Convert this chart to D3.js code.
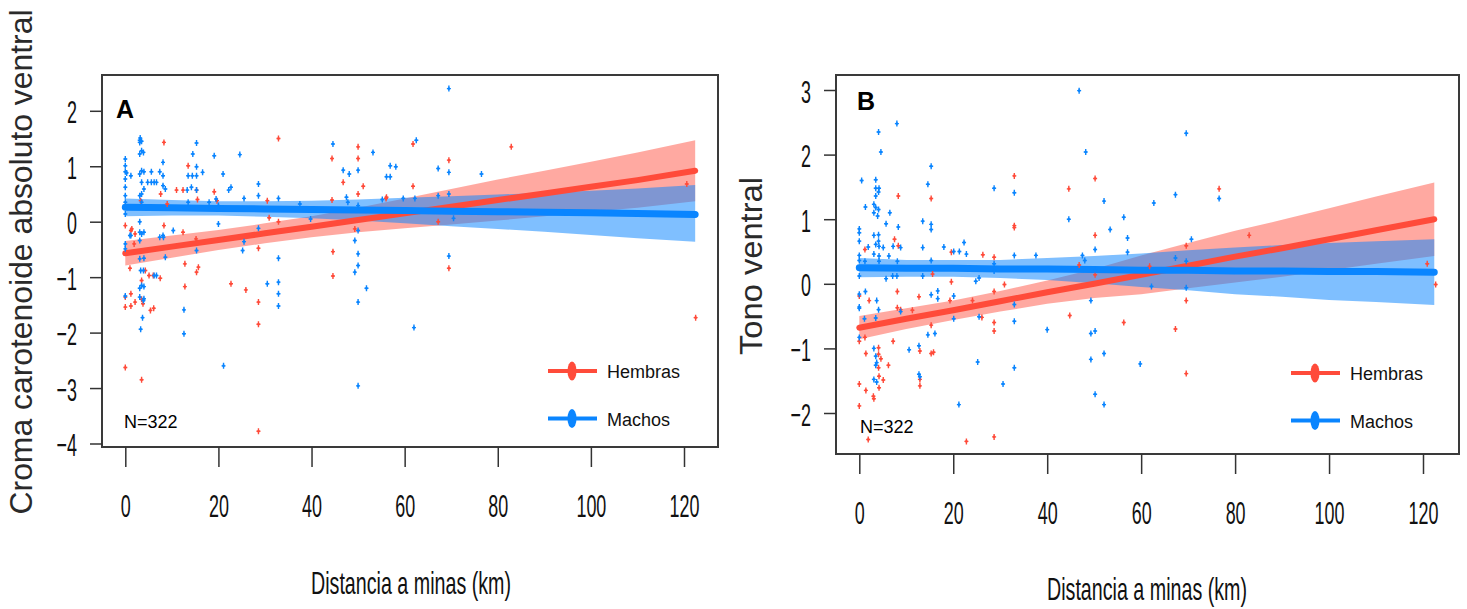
<!DOCTYPE html>
<html lang="es">
<head>
<meta charset="UTF-8">
<title>Distancia a minas</title>
<script src="https://d3js.org/d3.v7.min.js"></script>
<style>
  body { margin: 0; background: #fff; }
  svg { display: block; }
  text { font-family: "Liberation Sans", Arial, sans-serif; }
</style>
</head>
<body>
<svg id="chart" width="1467" height="609"></svg>
<script>
// ---- data ----
const xTicks = [0, 20, 40, 60, 80, 100, 120];
const aYTicks = [-4, -3, -2, -1, 0, 1, 2];
const bYTicks = [-2, -1, 0, 1, 2, 3];
const seriesNames = ["Hembras", "Machos"];

// x positions where the fitted line and its confidence band were read
const bandX = [0, 10, 20, 30, 40, 50, 60, 70, 80, 90, 100, 110, 122.4];

// panel A: croma carotenoide absoluto ventral
const aRedFit = [-0.57, -0.45, -0.33, -0.21, -0.09, 0.03, 0.15, 0.27, 0.39, 0.51, 0.63, 0.75, 0.92];
const aRedLo  = [-0.79, -0.65, -0.51, -0.39, -0.28, -0.19, -0.12, -0.05, 0.02, 0.10, 0.18, 0.25, 0.37];
const aRedHi  = [-0.35, -0.25, -0.15, -0.03, 0.10, 0.25, 0.42, 0.59, 0.76, 0.92, 1.08, 1.25, 1.47];
const aBlueFit = [0.26, 0.25, 0.24, 0.23, 0.22, 0.21, 0.20, 0.19, 0.18, 0.17, 0.16, 0.15, 0.13];
const aBlueLo  = [0.10, 0.11, 0.11, 0.09, 0.06, 0.02, -0.03, -0.08, -0.13, -0.18, -0.24, -0.30, -0.36];
const aBlueHi  = [0.42, 0.39, 0.37, 0.37, 0.38, 0.40, 0.43, 0.46, 0.49, 0.52, 0.56, 0.60, 0.66];

// panel B: tono ventral
const bRedFit = [-0.68, -0.54, -0.41, -0.27, -0.13, 0.0, 0.14, 0.28, 0.42, 0.55, 0.69, 0.83, 1.0];
const bRedLo  = [-0.86, -0.70, -0.56, -0.43, -0.31, -0.22, -0.16, -0.07, 0.02, 0.11, 0.21, 0.31, 0.43];
const bRedHi  = [-0.50, -0.38, -0.26, -0.11, 0.05, 0.23, 0.44, 0.63, 0.82, 0.99, 1.17, 1.35, 1.57];
const bBlueFit = [0.25, 0.24, 0.24, 0.23, 0.23, 0.22, 0.21, 0.21, 0.20, 0.20, 0.19, 0.19, 0.18];
const bBlueLo  = [0.10, 0.11, 0.11, 0.09, 0.06, 0.01, -0.05, -0.10, -0.16, -0.20, -0.25, -0.28, -0.33];
const bBlueHi  = [0.40, 0.37, 0.37, 0.37, 0.40, 0.43, 0.47, 0.52, 0.56, 0.60, 0.63, 0.66, 0.69];

// observations [km, value]
const aBlue = [[0,1.13],[0,1.01],[0,0.90],[0,0.77],[0,0.62],[0,0.47],[0,0.35],[0,0.26],[0,0.14],[0,-0.40],[0,-0.49],[0,-1.34],
  [0.3,0.88],[1.2,0.83],[1.2,-0.25],[1.0,-0.25],
  [3.1,1.47],[3.1,1.43],[3.2,1.51],[3.1,1.22],[3.1,0.86],[3.1,0.47],[3.1,-0.19],[3.1,-0.34],[3.1,-0.67],[3.3,-0.88],[3.1,-1.20],[3.1,-1.36],[3.3,-1.94],[3.1,0.0],
  [3.5,1.45],[3.9,1.25],[3.5,1.28],[3.5,0.92],[3.5,0.71],[3.5,0.50],[3.5,-1.15],[3.7,-1.73],[3.5,0.35],[3.5,-0.22],[3.9,-1.42],
  [4.0,0.90],[4.0,0.59],[4.0,-0.19],[4.0,-0.66],[3.9,-0.88],[4.0,-1.17],[4.0,-1.39],
  [5.6,0.90],[5.6,0.71],[4.8,0.71],[6.2,0.71],[6.7,0.71],[6.7,-0.97],[6.2,-0.97],[7.4,0.90],
  [8.1,1.07],[8.1,0.83],[8.1,0.65],[8.1,-0.25],[8.6,0.59],[7.4,-0.28],[8.2,-0.28],[8.6,-0.64],
  [10.3,-0.16],[12.6,-1.59],[12.6,-2.02],[13.5,0.83],[13.3,0.57],[14.2,0.62],[13.5,0.35],[14.4,0.83],[15.3,1.42],[15.3,0.83],
  [15.3,0.57],[15.3,0.99],[15.3,-0.52],[14.5,1.22],[16.6,0.89],[18.0,0.35],[19.1,1.19],[19.5,0.41],[20.0,0.29],[20.0,-0.04],
  [21.0,0.86],[22.2,0.57],[22.7,0.62],[21.1,-2.60],[24.6,1.21],[25.5,0.42],[25.5,-0.36],[25.2,-0.52],[28.6,0.68],[28.6,0.47],
  [28.6,-0.12],[30.5,-1.12],[32.9,0.42],[32.9,-0.66],[32.9,-1.09],[32.9,-1.30],[32.9,-1.52],[37.5,0.32],[39.8,0.05],[44.6,1.40],
  [46.8,0.93],[47.5,0.44],[48.1,0.86],[47.8,0.35],[50.0,0.93],[50.0,0.29],[50.0,-0.16],[49.3,-0.34],[50.0,-0.58],[50.0,-0.79],
  [49.3,-0.91],[50.0,-1.45],[50.0,-2.96],[51.8,-1.20],[53.2,1.25],[56.1,0.81],[56.9,0.81],[56.9,1.01],[58.1,0.99],[55.2,0.40],
  [59.7,0.42],[62.2,0.42],[62.5,1.47],[62.0,-1.91],[67.2,0.96],[67.2,0.47],[69.5,2.40],[69.5,0.89],[69.5,0.50],[69.5,-0.62],
  [70.5,0.06],[76.5,0.86]];
const aRed = [[0,-0.07],[0,-1.54],[0,-2.63],[0,-1.36],[1.2,-0.16],[1.4,-0.13],[1.0,-0.84],[1.2,-1.30],[1.2,-1.52],[1.9,-0.40],
  [2.1,-0.22],[2.1,-1.45],[3.3,0.38],[3.5,-1.06],[3.5,-1.40],[3.5,-2.85],[3.8,-1.48],[4.3,-0.88],[5.1,-0.97],[5.4,-1.60],
  [6.0,-0.97],[6.1,-1.56],[7.5,-1.02],[7.6,0.50],[8.3,1.43],[8.3,-0.07],[9.0,0.32],[11.0,0.57],[12.4,0.57],[12.4,-0.19],
  [12.8,-0.76],[12.8,-1.17],[13.5,1.01],[15.2,-0.31],[15.5,0.40],[15.3,0.57],[15.7,-0.82],[15.3,-0.91],[19.1,0.54],[19.7,0.38],
  [22.7,-1.12],[25.9,-1.23],[28.6,-0.48],[28.6,-1.45],[28.6,-1.85],[28.6,-3.78],[30.5,0.38],[30.9,0.07],[32.9,1.50],[32.9,0.0],
  [44.4,1.14],[44.4,0.39],[44.6,-0.54],[44.6,-0.98],[46.8,0.71],[50.0,1.35],[50.0,1.14],[50.0,0.50],[49.3,-0.13],[51.1,0.64],
  [56.1,0.44],[56.0,0.42],[61.8,1.40],[61.8,0.64],[67.2,0.0],[69.5,1.11],[69.5,-0.84],[82.9,1.35],[120.6,0.68],[122.5,-1.73]];
const bBlue = [[0.5,1.60],[0,0.85],[0,0.79],[0,0.66],[0,0.44],[0,0.36],[0,0.25],[0,0.12],[1.2,0.35],[1.3,1.19],[1.9,0.57],
  [0,-0.16],[0,-0.36],[0,-0.38],[1.3,-0.12],[1.1,-0.54],[0,-0.83],
  [3.5,1.61],[3.5,1.48],[4.2,1.48],[4.1,1.42],[3.5,1.36],[3.1,1.23],[3.5,1.18],[4.1,1.15],[3.1,1.10],[3.9,1.05],[4.1,2.35],
  [4.6,2.04],[3.1,0.75],[4.1,0.76],[4.1,0.66],[4.2,0.58],[3.5,0.61],[3.1,0.46],[4.2,0.43],[4.2,0.35],[5.7,0.93],[6.5,1.10],
  [5.1,0.56],[5.7,0.08],[6.3,0.43],[3.7,-0.26],[4.1,-0.40],[3.5,-0.53],[3.1,-1.00],[3.5,-1.12],[3.7,-1.22],[3.5,-1.26],
  [3.1,-1.48],[3.7,-1.52],[8.3,0.88],[8.0,2.48],[8.8,0.56],[7.2,0.58],[7.1,0.12],[8.0,0.12],[8.1,0.35],[8.8,-0.43],
  [10.6,-1.02],[13.5,0.97],[13.5,0.56],[13.5,0.12],[12.7,-0.96],[12.7,-1.40],[12.9,-1.44],[14.6,1.54],[15.3,1.82],[15.3,0.92],
  [15.3,0.84],[15.3,0.36],[15.3,-0.17],[16.7,-0.11],[16.7,-0.23],[16.1,-0.77],[14.6,-0.79],[18.0,0.57],[20.1,0.50],[21.3,0.50],
  [22.3,0.64],[22.8,0.46],[20.1,-0.19],[20.1,-0.54],[24.8,0.04],[25.5,0.09],[25.5,-0.51],[25.2,-1.21],[21.2,-1.87],[28.7,1.48],
  [28.7,0.31],[28.7,0.20],[33.0,1.41],[33.0,0.44],[33.0,-0.32],[33.0,-0.58],[33.0,-1.30],[30.6,-1.55],[37.6,0.44],[40.0,-0.71],
  [46.8,2.99],[48.2,2.04],[44.6,1.0],[47.5,0.44],[48.0,0.36],[50.2,0.53],[50.2,0.21],[49.3,-0.26],[49.3,-0.77],[50.2,-0.73],
  [49.3,-1.17],[50.2,-1.71],[52.1,1.28],[52.1,-1.08],[52.1,-1.87],[53.4,0.84],[56.3,1.03],[57.1,0.71],[57.1,0.49],[59.8,-1.24],
  [62.7,1.25],[67.3,1.38],[69.6,2.33],[70.7,0.69],[67.3,0.40],[69.6,0.35],[62.2,-0.04],[69.6,-0.06],[76.6,1.32]];
const bRed = [[0,-0.89],[0,-1.55],[0,-1.89],[0,-0.19],[1.2,0.53],[1.2,-0.83],[1.4,-1.08],[1.4,-1.65],[2.1,-0.26],[3.0,-1.74],
  [3.1,-1.78],[1.9,-2.41],[4.1,-0.99],[4.1,-1.09],[4.6,-1.16],[4.1,-1.30],[4.2,-1.43],[4.2,-1.61],[5.1,-1.49],[6.2,-1.26],
  [7.2,-0.89],[7.5,0.69],[8.3,0.59],[8.3,1.36],[8.1,-0.12],[8.1,-0.37],[8.8,-0.40],[11.3,-0.41],[12.7,-0.20],[12.9,-1.04],
  [12.9,-1.48],[12.9,-1.58],[15.3,1.32],[15.6,0.15],[15.3,-0.64],[15.3,-1.08],[15.8,-1.06],[19.6,0.03],[19.6,0.49],[19.3,-0.26],
  [22.8,-2.44],[24.1,-0.26],[26.3,0.45],[26.1,-0.52],[28.7,0.41],[28.7,-0.12],[28.7,-0.60],[28.7,-0.73],[28.7,-2.37],[30.9,-0.01],
  [33.0,1.67],[33.0,0.90],[33.0,0.87],[44.6,1.47],[44.8,-0.49],[46.8,0.29],[50.2,1.63],[50.2,0.75],[50.2,0.14],[56.3,-0.60],
  [61.8,0.27],[67.3,-0.70],[69.6,0.59],[69.6,-0.26],[69.6,-1.39],[76.6,1.47],[83.0,0.75],[120.9,0.31],[122.7,-0.01]];

// ---- styling ----
const RED = "#ff4b3a", BLUE = "#0a85ff";
const svg = d3.select("#chart");

const panels = [
  { tag: "A", box: [102, 75, 718, 447], xr: [125.3, 684], yd: [-4, 2], yr: [443.5, 110.8], yTicks: aYTicks,
    ylab: "Croma carotenoide absoluto ventral", ylabX: 32, ylabY: 262, ylabLen: 505, xlabY: 594, xlabX: 411,
    red: aRed, blue: aBlue, redBand: [aRedFit, aRedLo, aRedHi], blueBand: [aBlueFit, aBlueLo, aBlueHi],
    tagPos: [116, 118], nPos: [124, 428], leg: [548, 371] },
  { tag: "B", box: [836, 75, 1459, 454], xr: [859.3, 1423], yd: [-2, 3], yr: [413, 90], yTicks: bYTicks,
    ylab: "Tono ventral", ylabX: 762, ylabY: 266, ylabLen: 178, xlabY: 600, xlabX: 1147,
    red: bRed, blue: bBlue, redBand: [bRedFit, bRedLo, bRedHi], blueBand: [bBlueFit, bBlueLo, bBlueHi],
    tagPos: [857, 110], nPos: [860, 433], leg: [1291, 373] }
];

panels.forEach(drawPanel);

function drawPanel(p) {
  const [x0, y0, x1, y1] = p.box;
  const x = d3.scaleLinear().domain([0, 120]).range(p.xr);
  const y = d3.scaleLinear().domain(p.yd).range(p.yr);
  const g = svg.append("g");

  // confidence bands, then fitted lines
  const area = d3.area()
    .x(d => x(d[0])).y0(d => y(d[1])).y1(d => y(d[2]));
  const line = d3.line().x(d => x(d[0])).y(d => y(d[1]));
  const bandRows = b => bandX.map((v, i) => [v, b[1][i], b[2][i]]);
  const fitRows = b => bandX.map((v, i) => [v, b[0][i]]);

  g.append("path").attr("d", area(bandRows(p.redBand)))
    .attr("fill", RED).attr("fill-opacity", 0.48);
  g.append("path").attr("d", area(bandRows(p.blueBand)))
    .attr("fill", BLUE).attr("fill-opacity", 0.52);
  g.append("path").attr("d", line(fitRows(p.redBand)))
    .attr("fill", "none").attr("stroke", RED).attr("stroke-width", 6).attr("stroke-linecap", "round");
  g.append("path").attr("d", line(fitRows(p.blueBand)))
    .attr("fill", "none").attr("stroke", BLUE).attr("stroke-width", 7).attr("stroke-linecap", "round");

  // points
  [[p.red, RED], [p.blue, BLUE]].forEach(([pts, col]) => {
    const m = g.append("g").selectAll("g").data(pts).join("g")
      .attr("transform", d => `translate(${x(d[0])},${y(d[1])})`);
    m.append("path").attr("d", "M-2,0H2M0,-3V3")
      .attr("stroke", col).attr("stroke-width", 1.4);
    m.append("circle").attr("r", 1.3).attr("fill", col);
  });

  // box
  g.append("rect").attr("x", x0).attr("y", y0)
    .attr("width", x1 - x0).attr("height", y1 - y0)
    .attr("fill", "none").attr("stroke", "#3a3a3a").attr("stroke-width", 2);

  // x axis
  const xa = g.append("g").attr("transform", `translate(0,${y1})`)
    .call(d3.axisBottom(x).tickValues(xTicks).tickSize(20).tickFormat(d3.format("d")));
  xa.select(".domain").remove();
  xa.selectAll(".tick line").attr("stroke", "#333").attr("stroke-width", 1.5);
  xa.selectAll(".tick text")
    .attr("y", 0).attr("dy", null)
    .attr("transform", "translate(0,70) scale(0.56,1)")
    .attr("font-size", 32).attr("fill", "#111")
    .style("font-family", "'Liberation Sans', Arial, sans-serif");

  // y axis
  const ya = g.append("g").attr("transform", `translate(${x0},0)`)
    .call(d3.axisLeft(y).tickValues(p.yTicks).tickSize(12).tickFormat(d3.format("d")));
  ya.select(".domain").remove();
  ya.selectAll(".tick line").attr("stroke", "#333").attr("stroke-width", 1.5);
  ya.selectAll(".tick text")
    .attr("x", 0).attr("dy", null).attr("y", 0)
    .attr("transform", "translate(-25,12) scale(0.56,1)")
    .attr("font-size", 32).attr("fill", "#111")
    .style("font-family", "'Liberation Sans', Arial, sans-serif");

  // axis titles
  g.append("text")
    .attr("transform", `translate(${p.xlabX},${p.xlabY})`)
    .attr("text-anchor", "middle").attr("font-size", 32).attr("fill", "#111")
    .attr("textLength", 200).attr("lengthAdjust", "spacingAndGlyphs")
    .text("Distancia a minas (km)");
  g.append("text")
    .attr("transform", `translate(${p.ylabX},${p.ylabY}) rotate(-90)`)
    .attr("text-anchor", "middle").attr("font-size", 32).attr("fill", "#2a2a2a")
    .attr("textLength", p.ylabLen).attr("lengthAdjust", "spacingAndGlyphs")
    .text(p.ylab);

  // panel tag and N
  g.append("text").attr("x", p.tagPos[0]).attr("y", p.tagPos[1])
    .attr("font-size", 25).attr("font-weight", "bold").attr("fill", "#000").text(p.tag);
  g.append("text").attr("x", p.nPos[0]).attr("y", p.nPos[1])
    .attr("font-size", 18).attr("fill", "#000").text("N=322");

  // legend
  const lg = g.append("g");
  [[RED, 0], [BLUE, 1]].forEach(([col, i]) => {
    const ly = p.leg[1] + i * 47.5;
    lg.append("line").attr("x1", p.leg[0]).attr("x2", p.leg[0] + 49)
      .attr("y1", ly).attr("y2", ly).attr("stroke", col).attr("stroke-width", 4);
    lg.append("ellipse").attr("cx", p.leg[0] + 24).attr("cy", ly)
      .attr("rx", 4.5).attr("ry", 9.5).attr("fill", col);
    lg.append("text").attr("x", p.leg[0] + 59).attr("y", ly + 7)
      .attr("font-size", 18).attr("fill", "#111").text(seriesNames[i]);
  });
}
</script>
</body>
</html>
